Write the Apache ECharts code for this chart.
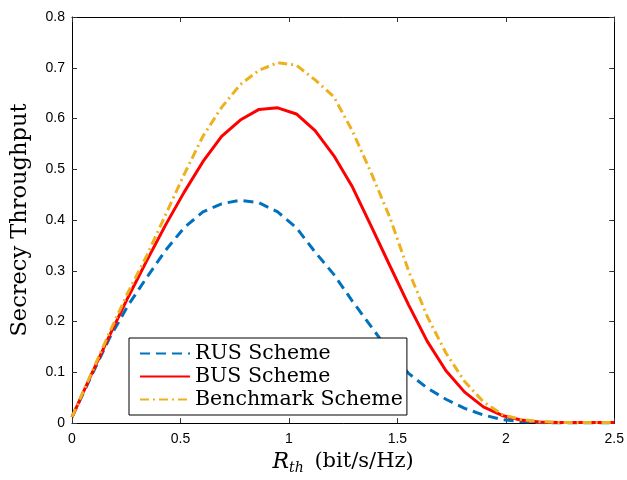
<!DOCTYPE html>
<html>
<head>
<meta charset="utf-8">
<script src="https://cdn.jsdelivr.net/npm/echarts@6/dist/echarts.min.js"></script>
<style>
html,body{margin:0;padding:0;background:#fff;}
#chart{width:627px;height:480px;}
</style>
</head>
<body>
<div id="chart"></div>
<script>
// Rth values (x)
var rth = [0, 0.0862, 0.1724, 0.2586, 0.3448, 0.4310, 0.5172, 0.6034, 0.6897, 0.7759,
           0.8621, 0.9483, 1.0345, 1.1207, 1.2069, 1.2931, 1.3793, 1.4655, 1.5517, 1.6379,
           1.7241, 1.8103, 1.8966, 1.9828, 2.0690, 2.1552, 2.2414, 2.3276, 2.4138, 2.5];
var rusValues = [0.012, 0.090, 0.167, 0.232, 0.287, 0.340, 0.385, 0.416, 0.432, 0.439,
                 0.434, 0.416, 0.385, 0.337, 0.293, 0.240, 0.190, 0.140, 0.098, 0.069,
                 0.047, 0.029, 0.016, 0.007, 0.003, 0.001, 0, 0, 0, 0];
var busValues = [0.012, 0.093, 0.172, 0.248, 0.320, 0.390, 0.455, 0.515, 0.565, 0.597,
                 0.618, 0.621, 0.609, 0.576, 0.527, 0.465, 0.388, 0.310, 0.233, 0.161,
                 0.103, 0.061, 0.032, 0.015, 0.006, 0.002, 0.001, 0.001, 0.001, 0.001];
var benchValues = [0.012, 0.095, 0.178, 0.258, 0.330, 0.410, 0.490, 0.565, 0.622, 0.667,
                   0.695, 0.710, 0.705, 0.676, 0.643, 0.575, 0.493, 0.405, 0.300, 0.210,
                   0.138, 0.082, 0.042, 0.017, 0.007, 0.003, 0.001, 0.001, 0.001, 0.001];
var seriesNames = ['RUS Scheme', 'BUS Scheme', 'Benchmark Scheme'];
var xTicks = [0, 0.5, 1, 1.5, 2, 2.5];
var yTicks = [0, 0.1, 0.2, 0.3, 0.4, 0.5, 0.6, 0.7, 0.8];

function pairs(xs, ys){ return xs.map(function(x,i){ return [x, ys[i]]; }); }

var chart = echarts.init(document.getElementById('chart'), null, {renderer:'canvas'});
var tickFont = {fontFamily:'Liberation Sans, Arial, sans-serif', fontSize:14, color:'#000'};
var axisCommon = {
  axisLine:{show:true, onZero:false, lineStyle:{color:'#000', width:1}},
  axisTick:{show:true, inside:true, length:5, lineStyle:{color:'#333'}},
  splitLine:{show:false}
};
chart.setOption({
  animation:false,
  backgroundColor:'#fff',
  grid:{left:72, right:11, top:17, bottom:50, containLabel:false},
  xAxis:[
    Object.assign({type:'value', position:'bottom', min:xTicks[0], max:xTicks[xTicks.length-1], interval:0.5,
      axisLabel:Object.assign({margin:9}, tickFont),
      name:'{i|R}{s|th}{n| (bit/s/Hz)}', nameLocation:'middle', nameGap:23,
      nameTextStyle:{rich:{
        i:{fontFamily:'DejaVu Serif', fontStyle:'italic', fontSize:22, lineHeight:26, verticalAlign:'middle', color:'#000'},
        s:{fontFamily:'DejaVu Serif', fontStyle:'italic', fontSize:14, lineHeight:14, verticalAlign:'bottom', color:'#000', padding:[0,4,0,0]},
        n:{fontFamily:'DejaVu Serif', fontSize:21, lineHeight:26, verticalAlign:'middle', color:'#000'}
      }}
    }, axisCommon),
    Object.assign({type:'value', position:'top', min:xTicks[0], max:xTicks[xTicks.length-1], interval:0.5,
      axisLabel:{show:false}}, axisCommon)
  ],
  yAxis:[
    Object.assign({type:'value', position:'left', min:yTicks[0], max:yTicks[yTicks.length-1], interval:0.1,
      axisLabel:Object.assign({margin:7}, tickFont),
      name:'Secrecy Throughput', nameLocation:'middle', nameGap:40,
      nameTextStyle:{fontFamily:'DejaVu Serif', fontSize:22.5, color:'#000'}
    }, axisCommon),
    Object.assign({type:'value', position:'right', min:yTicks[0], max:yTicks[yTicks.length-1], interval:0.1,
      axisLabel:{show:false}}, axisCommon)
  ],
  legend:{
    orient:'vertical', left:129, top:338,
    backgroundColor:'#fff', borderColor:'#000', borderWidth:1, borderRadius:0,
    padding:[5,4,5,10], itemGap:2, itemWidth:50, itemHeight:20,
    itemStyle:{opacity:0},
    textStyle:{fontFamily:'DejaVu Serif', fontSize:20.5, color:'#000', lineHeight:20},
    data:seriesNames
  },
  series:[
    {name:seriesNames[0], type:'line', data:pairs(rth, rusValues), symbol:'none', z:2,
      lineStyle:{color:'#0072BD', width:3, type:[10,6]}, itemStyle:{color:'#0072BD'}},
    {name:seriesNames[1], type:'line', data:pairs(rth, busValues), symbol:'none', z:3,
      lineStyle:{color:'#FF0000', width:3, type:'solid'}, itemStyle:{color:'#FF0000'}},
    {name:seriesNames[2], type:'line', data:pairs(rth, benchValues), symbol:'none', z:4,
      lineStyle:{color:'#EDB120', width:3, type:[9,4,2,4]}, itemStyle:{color:'#EDB120'}}
  ]
});
</script>
</body>
</html>
